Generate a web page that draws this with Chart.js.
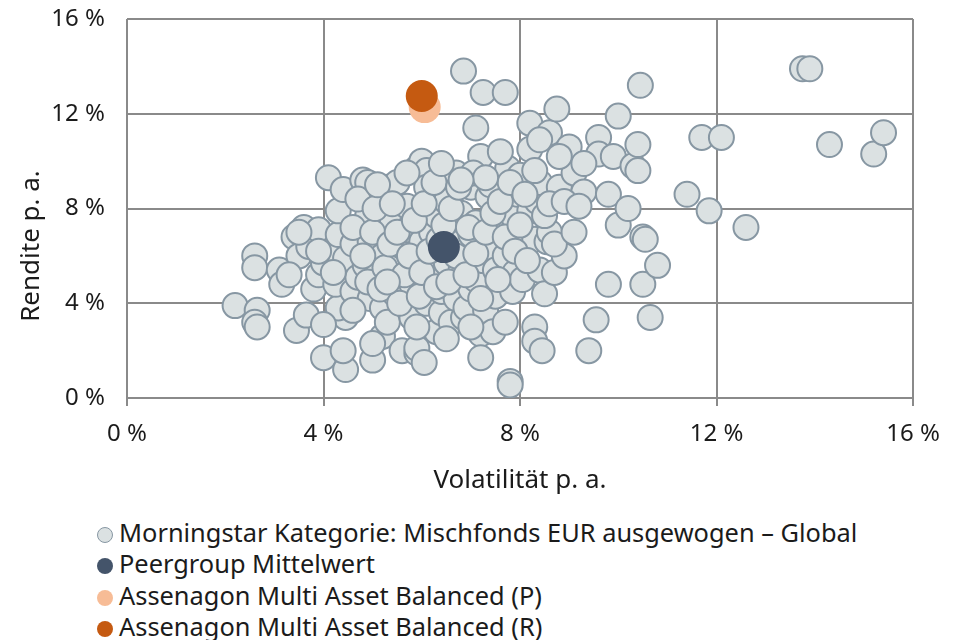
<!DOCTYPE html>
<html lang="de">
<head>
<meta charset="utf-8">
<title>Rendite / Volatilität</title>
<script src="https://cdn.jsdelivr.net/npm/chart.js@4.4.1/dist/chart.umd.min.js"></script>
<style>
	body { margin: 0; background: #fff; font-family: "Noto Sans", sans-serif; }
	#wrap { position: relative; width: 962px; height: 510px; }
	#legend { position: absolute; left: 97px; top: 517px; margin: 0; padding: 0; list-style: none; }
	#legend li { height: 31.3px; line-height: 31.3px; font-size: 25.4px; color: #1b1b1b; white-space: nowrap; }
	#legend span { display: inline-block; width: 16px; height: 16px; border-radius: 50%; margin-right: 6px; vertical-align: -1px; box-sizing: border-box; }
</style>
</head>
<body>
<div id="wrap"><canvas id="scatterChart" width="962" height="510"></canvas></div>
<ul id="legend"></ul>
<script>
//DATA (VOLATILITAET / RENDITE IN %)
const katVol = [
	2.2, 2.6, 2.6, 2.65, 2.6, 2.65, 3.1, 3.15, 3.45, 3.4, 3.6, 3.5, 3.3, 3.65, 3.8, 3.9, 3.7, 3.9,
	4.0, 4.1, 4.45, 4.4, 4.45, 4.3, 4.0, 4.25, 4.0, 4.2, 4.3, 4.3, 4.4, 4.45, 4.6, 4.6, 4.7, 4.8,
	4.9, 4.9, 4.95, 4.85, 4.95, 5.0, 5.2, 5.0, 5.2, 5.3, 5.1, 5.2, 5.3, 5.4, 5.3, 5.5, 5.45, 5.5,
	5.6, 5.6, 5.7, 5.7, 5.8, 5.8, 5.9, 5.9, 5.9, 6.0, 5.9, 6.0, 6.1, 6.1, 6.05, 6.1, 6.2, 6.2,
	6.3, 6.3, 6.4, 6.4, 6.5, 6.5, 6.6, 6.7, 6.6, 6.7, 6.7, 6.8, 6.8, 6.85, 6.9, 7.0, 7.0, 7.0,
	7.1, 7.1, 7.2, 7.2, 7.2, 7.3, 7.25, 7.35, 7.4, 7.4, 7.45, 7.5, 7.5, 7.6, 7.7, 7.7, 7.75, 7.8,
	7.8, 7.85, 7.85, 7.9, 7.95, 8.0, 8.05, 8.1, 8.2, 8.2, 8.2, 8.3, 8.3, 8.3, 8.35, 8.4, 8.4, 8.45,
	8.5, 8.55, 8.6, 8.6, 8.7, 8.75, 8.8, 8.9, 9.0, 9.1, 9.3, 9.4, 9.55, 9.6, 9.6, 9.8, 9.8, 9.9,
	10.0, 10.0, 10.2, 10.3, 10.4, 10.4, 10.45, 10.5, 10.5, 10.55, 10.65, 10.8, 6.85, 7.25, 7.7, 7.1,
	11.4, 11.7, 12.1, 11.85, 12.6, 13.75, 13.9, 14.3, 15.2, 15.4,
	4.6, 4.7, 4.8, 4.9, 5.0, 5.05, 5.1, 5.15, 5.25, 5.35, 5.4, 5.5, 5.55, 5.65, 5.7, 5.75, 5.85, 5.95,
	6.0, 6.05, 6.15, 6.25, 6.3, 6.35, 6.45, 6.55, 6.6, 6.7, 6.75, 6.9, 6.95, 7.05, 7.1, 7.2, 7.3, 7.45,
	7.55, 7.6, 7.7, 7.8, 7.9, 8.0, 8.1, 8.15, 8.3, 8.5, 8.6, 8.7, 8.9, 9.1, 5.3, 5.9, 6.5, 7.0,
	4.6, 4.2, 3.9, 3.5, 8.8, 8.4, 7.6, 7.3, 6.4, 6.8, 9.3, 9.2
];
const katRet = [
	3.9, 6.0, 5.5, 3.7, 3.2, 3.0, 5.4, 4.8, 2.85, 6.8, 7.2, 6.0, 5.2, 3.5, 4.6, 5.2, 6.4, 7.1,
	1.7, 9.3, 1.2, 2.0, 3.4, 3.8, 3.1, 4.8, 5.7, 6.3, 6.9, 7.9, 8.8, 5.9, 4.5, 6.5, 5.1, 9.2,
	9.1, 7.7, 6.6, 5.6, 4.2, 1.6, 2.6, 2.3, 3.8, 3.2, 5.2, 6.0, 6.9, 7.5, 8.9, 9.1, 4.4, 5.6,
	2.0, 6.4, 7.1, 8.1, 3.4, 4.8, 5.7, 1.9, 2.1, 6.6, 9.7, 10.0, 9.6, 8.9, 1.5, 4.0, 5.0, 7.0,
	7.7, 2.8, 3.6, 4.5, 5.7, 8.3, 9.3, 9.5, 3.2, 4.2, 6.5, 5.4, 7.8, 3.4, 3.8, 4.6, 6.9, 8.9,
	5.0, 7.4, 10.2, 2.7, 1.7, 3.7, 5.8, 8.5, 6.3, 9.0, 2.8, 4.3, 5.4, 7.3, 3.2, 6.0, 9.7, 0.7,
	0.55, 4.5, 7.7, 5.3, 8.6, 9.4, 5.0, 6.5, 7.9, 10.5, 11.6, 3.0, 2.4, 6.7, 8.3, 5.4, 9.1, 2.0,
	4.4, 6.6, 11.2, 7.0, 5.3, 12.2, 8.9, 6.0, 10.6, 9.5, 8.7, 2.0, 3.3, 11.0, 10.3, 4.8, 8.6, 10.2,
	11.9, 7.3, 8.0, 9.8, 9.6, 10.7, 13.2, 4.8, 6.8, 6.7, 3.4, 5.6, 13.8, 12.9, 12.9, 11.4,
	8.6, 11.0, 11.0, 7.9, 7.2, 13.9, 13.9, 10.7, 10.3, 11.2,
	7.2, 8.4, 6.0, 4.9, 7.0, 8.0, 9.0, 4.6, 5.5, 6.5, 8.2, 7.0, 4.0, 5.2, 9.5, 6.0, 7.5, 4.3,
	5.3, 8.2, 6.2, 9.1, 4.7, 6.7, 7.3, 4.9, 8.0, 6.0, 8.9, 5.2, 7.2, 9.5, 6.1, 4.2, 7.0, 7.8,
	5.0, 8.3, 6.8, 9.1, 6.2, 7.3, 8.6, 5.8, 9.6, 7.7, 8.2, 6.5, 8.3, 7.0, 4.9, 3.0, 2.5, 3.0,
	3.7, 5.3, 6.2, 7.0, 10.2, 10.9, 10.4, 9.3, 9.9, 9.2, 9.9, 8.1
];
const peerVol = [6.45];
const peerRet = [6.37];
const fondsPVol = [6.06];
const fondsPRet = [12.28];
const fondsRVol = [6.0];
const fondsRRet = [12.75];

const achsenTicks = [0, 4, 8, 12, 16];
const serienNamen = [
	"Morningstar Kategorie: Mischfonds EUR ausgewogen \u2013 Global",
	"Peergroup Mittelwert",
	"Assenagon Multi Asset Balanced (P)",
	"Assenagon Multi Asset Balanced (R)"
];

//BUILD POINT LISTS
const toPoints = (xs, ys) => xs.map((x, i) => ({ x: x, y: ys[i] }));

const gridColor = "#8a8a8a";
const textColor = "#1b1b1b";
const fontFamily = "'Noto Sans', sans-serif";

//Y AXIS TITLE SITS BELOW THE MIDDLE IN THE ORIGINAL, SO DRAW IT BY HAND
const yTitlePlugin = {
	id: "yTitle",
	afterDraw(chart) {
		const c = chart.ctx;
		const area = chart.chartArea;
		c.save();
		c.translate(32, area.bottom - 152);
		c.rotate(-Math.PI / 2);
		c.font = "26px " + fontFamily;
		c.fillStyle = textColor;
		c.textAlign = "center";
		c.textBaseline = "middle";
		c.fillText("Rendite p. a.", 0, 0);
		c.restore();
	},
};

//SCATTER CHART
var ctx = document.getElementById("scatterChart").getContext("2d");
var myChart = new Chart(ctx, {
	type: "scatter",
	data: {
		datasets: [
			{
				label: serienNamen[0],
				data: toPoints(katVol, katRet),
				backgroundColor: "#dbe1e2",
				borderColor: "#8797a3",
				borderWidth: 2,
				pointRadius: 12.5,
				order: 3,
			},
			{
				label: serienNamen[1],
				data: toPoints(peerVol, peerRet),
				backgroundColor: "#44546a",
				borderWidth: 0,
				pointRadius: 16,
				order: 2,
			},
			{
				label: serienNamen[2],
				data: toPoints(fondsPVol, fondsPRet),
				backgroundColor: "#f7bc96",
				borderWidth: 0,
				pointRadius: 16,
				order: 1,
			},
			{
				label: serienNamen[3],
				data: toPoints(fondsRVol, fondsRRet),
				backgroundColor: "#c55a11",
				borderWidth: 0,
				pointRadius: 16,
				order: 0,
			},
		],
	},
	options: {
		responsive: false,
		animation: false,
		layout: { autoPadding: false, padding: { left: 0, right: 49, top: 19, bottom: 0 } },
		plugins: {
			legend: { display: false },
			tooltip: { enabled: false },
		},
		scales: {
			x: {
				type: "linear",
				min: 0,
				max: 16,
				afterBuildTicks: (axis) => { axis.ticks = achsenTicks.map((v) => ({ value: v })); },
				afterFit: (axis) => { axis.height = 112; },
				grid: { color: gridColor, lineWidth: 2, drawTicks: true, tickLength: 8 },
				border: { display: false },
				ticks: {
					color: textColor,
					padding: 14,
					maxRotation: 0,
					font: { family: fontFamily, size: 24 },
					callback: (v) => v + " %",
				},
				title: {
					display: true,
					text: "Volatilität p. a.",
					color: textColor,
					font: { family: fontFamily, size: 26 },
					padding: { top: 0, bottom: 14 },
				},
			},
			y: {
				type: "linear",
				min: 0,
				max: 16,
				afterBuildTicks: (axis) => { axis.ticks = achsenTicks.map((v) => ({ value: v })); },
				afterFit: (axis) => { axis.width = 127; },
				// invisible tick marks keep the labels away from the plot without extra top padding
				grid: { color: gridColor, lineWidth: 2, drawTicks: true, tickLength: 22, tickColor: "rgba(0,0,0,0)" },
				border: { display: false },
				ticks: {
					color: textColor,
					padding: 0,
					font: { family: fontFamily, size: 24 },
					callback: (v) => v + " %",
				},
				title: { display: false },
			},
		},
	},
	plugins: [yTitlePlugin],
});

//LEGEND (VERTICAL LIST LIKE THE ORIGINAL)
const legendEl = document.getElementById("legend");
myChart.data.datasets.forEach((ds) => {
	var li = document.createElement("li");
	var dot = document.createElement("span");
	dot.style.background = ds.backgroundColor;
	if (ds.borderWidth) dot.style.border = "1.5px solid " + ds.borderColor;
	li.appendChild(dot);
	li.appendChild(document.createTextNode(ds.label));
	legendEl.appendChild(li);
});
</script>
</body>
</html>
